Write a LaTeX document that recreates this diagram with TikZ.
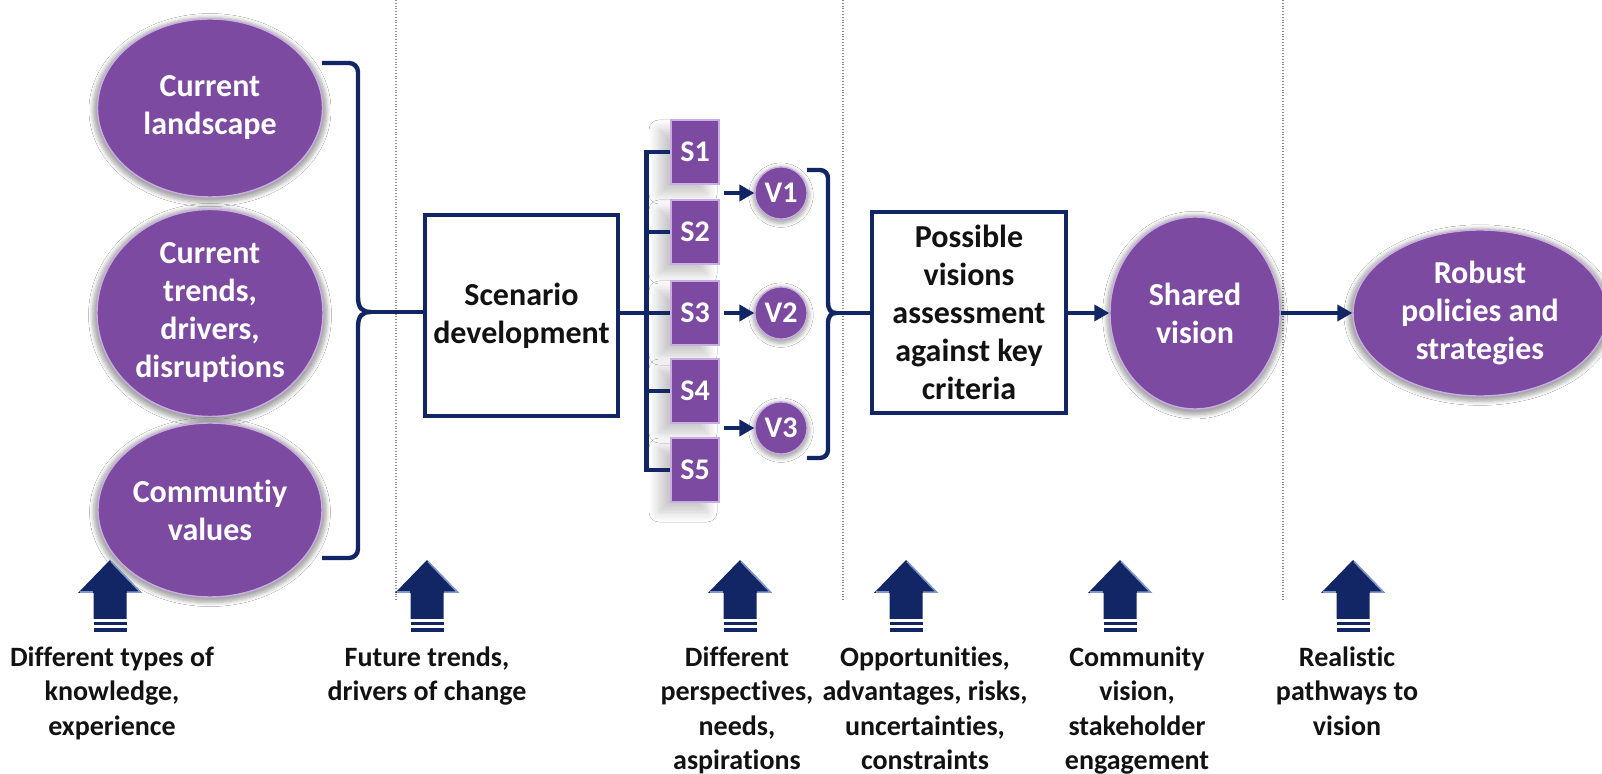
\documentclass[tikz,border=0pt]{standalone}
\usepackage{fontspec}
\setmainfont{Carlito}[Ligatures=NoCommon]
\usetikzlibrary{shapes.geometric,arrows.meta,shadows.blur,calc}
\definecolor{navy}{RGB}{18,38,102}
\definecolor{purp}{RGB}{124,74,160}
\definecolor{rim}{RGB}{200,172,226}
\definecolor{arrlight}{RGB}{125,150,205}
\definecolor{ink}{RGB}{18,18,18}
\tikzset{
  oval/.style={ellipse, fill=purp, draw=rim, line width=0.7pt, inner sep=0pt,
    text=white, font=\bfseries\fontsize{16}{19}\selectfont, align=center,
    blur shadow={shadow xshift=0pt, shadow yshift=-1pt, shadow scale=1.04,
      shadow blur steps=6, shadow opacity=35}},
  stepbox/.style={rectangle, draw=navy, line width=2pt, fill=white, inner sep=0pt,
    text=ink, font=\bfseries\fontsize{16}{19}\selectfont, align=center},
  sbox/.style={rectangle, fill=purp, draw=rim, line width=0.6pt,
    minimum width=24pt, minimum height=32pt, inner sep=0pt, text=white,
    font=\bfseries\fontsize{15}{17}\selectfont,
    blur shadow={shadow xshift=-6pt, shadow yshift=-5pt, shadow opacity=22,
      shadow blur steps=8, shadow blur radius=5pt}},
  vball/.style={circle, fill=purp, draw=rim, line width=0.6pt, minimum size=26pt,
    inner sep=0pt, text=white, font=\bfseries\fontsize{15}{17}\selectfont,
    blur shadow={shadow xshift=0pt, shadow yshift=-1pt, shadow scale=1.08,
      shadow opacity=35, shadow blur steps=4}},
  conn/.style={draw=navy, line width=2.2pt},
  arr/.style={conn, -{Triangle[length=7.5pt,width=8pt]}},
  divider/.style={draw=gray!90, line width=0.55pt, dash pattern=on 0.5pt off 0.9pt},
  note/.style={font=\bfseries\fontsize{14}{17.3}\selectfont, align=center,
    inner sep=0pt, anchor=north, text=ink},
  uparr/.pic={
    \fill[navy] (0,560) -- (32,593) -- (16.5,593) -- (16.5,619) -- (-16.5,619)
      -- (-16.5,593) -- (-32,593) -- cycle;
    \draw[arrlight, line width=0.8pt] (1,561.5) -- (30.5,592.2) -- (17,592.2);
    \draw[arrlight, line width=0.8pt] (-30.5,592.2) -- (-17,592.2);
    \fill[navy] (-16.5,622) rectangle (16.5,625.5);
    \fill[navy] (-16.5,628.5) rectangle (16.5,632);
  },
}
\begin{document}
\begin{tikzpicture}[x=0.5pt,y=-0.5pt]
\useasboundingbox (0,0) rectangle (1602,774);
\fill[white] (0,0) rectangle (1602,774);

% dividers
\draw[divider] (396,0) -- (396,600);
\draw[divider] (843,0) -- (843,600);
\draw[divider] (1283,0) -- (1283,600);

% left column
\node[oval, minimum width=112.5pt, minimum height=89pt] (cl) at (210,108) {Current\\landscape};
\node[oval, minimum width=113pt, minimum height=103.5pt] (ct) at (210,313) {Current\\trends,\\drivers,\\disruptions};
\node[oval, minimum width=112pt, minimum height=87pt] (cv) at (210,510) {Communtiy\\values};

% left brace
\coordinate (lb) at (371,312);
\draw[conn] (322,63) -- (349,63) to[out=0,in=90] (358,72) -- (358,297)
  .. controls (358,308) and (362,312) .. (lb)
  .. controls (362,312) and (358,316) .. (358,327) -- (358,549)
  to[out=-90,in=0] (349,558) -- (322,558);

% scenario development
\node[stepbox, minimum width=96.5pt, minimum height=100.5pt] (sd) at (521.5,315.5) {Scenario\\development};
\draw[conn] (lb) -- (lb -| sd.west);

% scenarios
\node[sbox] (s1) at (695,152) {S1};
\node[sbox] (s2) at (695,232) {S2};
\node[sbox] (s3) at (695,313) {S3};
\node[sbox] (s4) at (695,391) {S4};
\node[sbox] (s5) at (695,470) {S5};
\draw[conn] (sd.east |- s3.west) -- (s3.west);
\draw[conn] (s1.west) -- ++(-24,0) |- (s5.west);
\draw[conn] (s2.west) -- ++(-24,0);
\draw[conn] (s4.west) -- ++(-24,0);

% visions
\node[vball] (v1) at (781,193) {V1};
\node[vball] (v2) at (781,313) {V2};
\node[vball] (v3) at (781,428) {V3};
\coordinate (a1) at (724,193);
\coordinate (a2) at (724,313);
\coordinate (a3) at (724,428);
\draw[arr] (a1) -- (v1);
\draw[arr] (a2) -- (v2);
\draw[arr] (a3) -- (v3);

% right bracket
\coordinate (rb) at (836,313);
\draw[conn] (807,170) -- (820,170) to[out=0,in=90] (828,178) -- (828,302)
  .. controls (828,310) and (831,313) .. (rb)
  .. controls (831,313) and (828,316) .. (828,324) -- (828,450)
  to[out=-90,in=0] (820,458) -- (807,458);

% assessment
\node[stepbox, minimum width=97pt, minimum height=100.5pt] (pv) at (969,312.5) {Possible\\visions\\assessment\\against key\\criteria};
\draw[conn] (rb) -- (rb -| pv.west);

% shared vision and robust policies
\node[oval, minimum width=85pt, minimum height=96pt] (sv) at (1195,313) {Shared\\vision};
\node[oval, minimum width=127pt, minimum height=83pt] (rp) at (1480,313) {Robust\\policies and\\strategies};
\draw[arr] (pv.east |- sv.west) -- (sv.west);
\draw[arr] (sv.east) -- (rp.west);

% bottom arrows
\pic at (110,0) {uparr};
\pic at (427,0) {uparr};
\pic at (740,0) {uparr};
\pic at (906,0) {uparr};
\pic at (1120,0) {uparr};
\pic at (1353,0) {uparr};

% bottom labels
\node[note] (n1) at (112,646) {Different types of\\knowledge,\\experience};
\node[note] (n2) at (427,646) {Future trends,\\drivers of change};
\node[note] (n3) at (737,646) {Different\\perspectives,\\needs,\\aspirations};
\node[note] (n4) at (925,646) {Opportunities,\\advantages, risks,\\uncertainties,\\constraints};
\node[note] (n5) at (1137,646) {Community\\vision,\\stakeholder\\engagement};
\node[note] (n6) at (1347,646) {Realistic\\pathways to\\vision};
\end{tikzpicture}
\end{document}
